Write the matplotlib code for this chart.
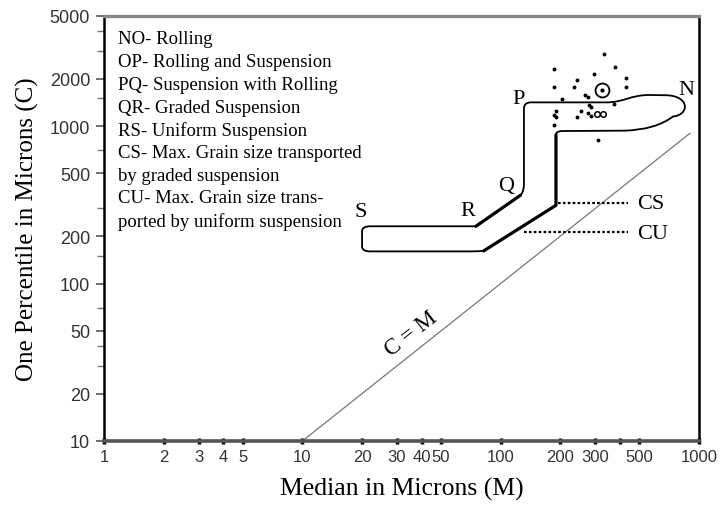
import numpy as np
import matplotlib.pyplot as plt
from matplotlib.path import Path
from matplotlib.patches import PathPatch

# key to the flow regimes
regimes = ['NO- Rolling',
           'OP- Rolling and Suspension',
           'PQ- Suspension with Rolling',
           'QR- Graded Suspension',
           'RS- Uniform Suspension',
           'CS- Max. Grain size transported',
           'by graded suspension',
           'CU- Max. Grain size trans-',
           'ported by uniform suspension']

# axis ticks
x_ticks = [1, 2, 3, 4, 5, 10, 20, 30, 40, 50, 100, 200, 300, 400, 500, 1000]
x_labels = ['1', '2', '3', '4', '5', '10', '20', '30', '40', '50', '100', '200', '300', '', '500', '1000']
y_ticks = [10, 20, 50, 100, 200, 500, 1000, 2000, 5000]
y_minor = [30, 40, 70, 150, 300, 700, 1500, 3000, 4000]

# outline of the NOPQRS field (M, C) with path codes
M_, L_, Q_, B_ = Path.MOVETO, Path.LINETO, Path.CURVE3, Path.CURVE4
outline_m = [22, 75, 126, 131, 131, 131, 131, 142, 340, 420, 450, 560, 680,
             900, 900, 740, 600, 420, 205, 190, 190, 190, 190, 82, 76, 70,
             22, 20, 20, 20, 20, 22]
outline_c = [231, 231, 364, 385, 425, 1290, 1414, 1414, 1414, 1414, 1575, 1575, 1570,
             1560, 1180, 1150, 945, 935, 930, 930, 880, 330, 314, 161, 160, 160,
             160, 160, 172, 215, 231, 231]
outline_codes = [M_, L_, L_, Q_, Q_, L_, Q_, Q_, L_, B_, B_, B_, L_,
                 B_, B_, B_, Q_, Q_, L_, Q_, Q_, L_, L_, L_, Q_, Q_,
                 L_, Q_, Q_, L_, Q_, Q_]

# heavier segments: R-Q and the lower limb
rq_m, rq_c = [75, 126], [231, 364]
low_m, low_c = [190, 190, 82], [880, 314, 161]

# sample points (M, C)
pts_m = [331, 185, 376, 295, 242, 428, 185, 234, 428, 266, 275, 203, 372, 278,
         285, 190, 185, 190, 254, 242, 275, 285, 185, 309]
pts_c = [2874, 2307, 2376, 2143, 1963, 2022, 1772, 1772, 1772, 1576, 1530, 1486, 1381, 1361,
         1321, 1246, 1175, 1141, 1246, 1141, 1210, 1158, 1015, 814]
ring_m, ring_c = [305, 327], [1193, 1193]
sun_m, sun_c = 324, 1695

# CS and CU limits
cs_c, cs_m = 324, [194, 438]
cu_c, cu_m = 214, [131, 438]

# C = M reference line
cm = [10, 900]

# letters along the field
point_names = ['S', 'R', 'Q', 'P', 'N']
point_m = [19.6, 68, 106, 123, 860]
point_c = [288, 292, 421, 1507, 1695]

serif = 'Liberation Serif'

fig = plt.figure(figsize=(7.22, 5.10), dpi=100)
ax = fig.add_axes([104/722, 1-442/510, 595/722, 425/510])
ax.set_xscale('log')
ax.set_yscale('log')
ax.set_xlim(1, 1000)
ax.set_ylim(10, 5000)

ax.plot(cm, cm, color='#777777', lw=0.9)
ax.text(35.5, 48, 'C = M', rotation=38, ha='center', va='center',
        rotation_mode='anchor', fontsize=16.5, family=serif)

path = Path(np.column_stack([outline_m, outline_c]), outline_codes)
ax.add_patch(PathPatch(path, fill=False, lw=1.3, edgecolor='black', joinstyle='round'))
ax.plot(rq_m, rq_c, color='black', lw=2.3, solid_capstyle='round')
ax.plot(low_m, low_c, color='black', lw=2.3, solid_capstyle='round')

ax.plot(cs_m, [cs_c, cs_c], color='black', lw=1.6, ls=(0, (1.2, 1.0)))
ax.plot(cu_m, [cu_c, cu_c], color='black', lw=1.6, ls=(0, (1.2, 1.0)))
ax.text(572, cs_c, 'CS', fontsize=16, family=serif, ha='center', va='center')
ax.text(586, cu_c * 0.97, 'CU', fontsize=16, family=serif, ha='center', va='center')

for name, m, c in zip(point_names, point_m, point_c):
    ax.text(m, c, name, fontsize=16, family=serif, ha='center', va='center')

ax.plot(pts_m, pts_c, 'o', color='black', ms=2.8, mew=0)
ax.plot(ring_m, ring_c, 'o', mfc='none', mec='black', ms=4, mew=1.1)
ax.plot([sun_m], [sun_c], 'o', mfc='none', mec='black', ms=10, mew=1.3)
ax.plot([sun_m], [sun_c], 'o', color='black', ms=2)

# axis styling
ax.set_xticks(x_ticks)
ax.set_xticklabels(x_labels, family='Liberation Sans', fontsize=12, color='#333333')
ax.set_xticks([], minor=True)
ax.set_yticks(y_ticks)
ax.set_yticklabels([str(v) for v in y_ticks], family='Liberation Sans', fontsize=13, color='#333333')
ax.set_yticks(y_minor, minor=True)
ax.set_yticklabels([], minor=True)
ax.tick_params(axis='x', direction='inout', length=4, width=2.5, pad=4)
ax.tick_params(axis='y', which='major', direction='out', length=6, width=1.2, color='#555555', pad=4)
ax.tick_params(axis='y', which='minor', direction='out', length=5, width=1.0, color='#777777')

ax.spines['left'].set_linewidth(1.8)
ax.spines['right'].set_linewidth(1.8)
ax.spines['top'].set_linewidth(2.4)
ax.spines['top'].set_color('#888888')
ax.spines['bottom'].set_linewidth(2.6)
ax.spines['bottom'].set_color('#555555')

ax.set_xlabel('Median in Microns (M)', family=serif, fontsize=18.5, labelpad=9)
ax.set_ylabel('One Percentile in Microns (C)', family=serif, fontsize=18, labelpad=8)

for i, line in enumerate(regimes):
    fig.text(118/722, 1 - (40 + 22.7 * i)/510, line, family=serif, fontsize=13.5,
             ha='left', va='center')

fig.savefig('out.png', dpi=100)
